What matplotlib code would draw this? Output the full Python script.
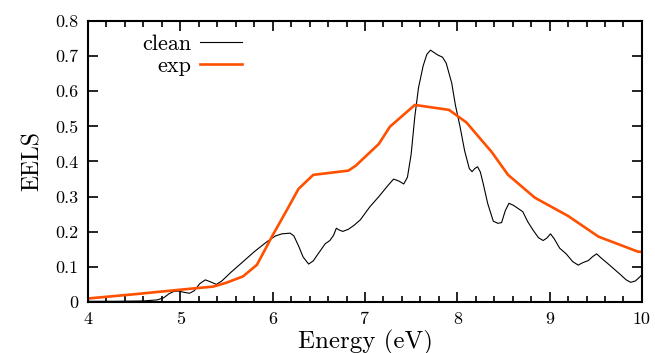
import matplotlib
matplotlib.use("Agg")
import matplotlib.pyplot as plt
from matplotlib.ticker import MultipleLocator, FixedLocator, FixedFormatter

plt.rcParams['font.family'] = 'serif'
plt.rcParams['font.serif'] = ['cmr10', 'DejaVu Serif']
plt.rcParams['mathtext.fontset'] = 'cm'
plt.rcParams['axes.formatter.use_mathtext'] = True

clean_x = [4.00, 4.30, 4.60, 4.75, 4.82, 4.88, 4.93, 4.98, 5.05, 5.10, 5.15, 5.21,
           5.27, 5.33, 5.39, 5.45, 5.55, 5.68, 5.80, 5.94, 6.03, 6.10, 6.19, 6.23,
           6.28, 6.33, 6.39, 6.44, 6.50, 6.57, 6.62, 6.66, 6.69, 6.72, 6.76, 6.82,
           6.88, 6.95, 7.05, 7.15, 7.25, 7.31, 7.37, 7.42, 7.46, 7.50, 7.54, 7.58,
           7.63, 7.67, 7.71, 7.75, 7.79, 7.84, 7.88, 7.94, 7.98, 8.03, 8.08, 8.13,
           8.16, 8.19, 8.22, 8.25, 8.28, 8.33, 8.39, 8.44, 8.48, 8.52, 8.56, 8.61,
           8.66, 8.71, 8.76, 8.82, 8.88, 8.93, 8.97, 9.01, 9.05, 9.11, 9.18, 9.25,
           9.31, 9.36, 9.42, 9.47, 9.51, 9.56, 9.65, 9.75, 9.83, 9.88, 9.93, 9.98, 10.0]
clean_y = [0.002, 0.002, 0.003, 0.006, 0.012, 0.024, 0.030, 0.031, 0.027, 0.025, 0.032, 0.052,
           0.063, 0.057, 0.050, 0.060, 0.085, 0.115, 0.143, 0.172, 0.188, 0.194, 0.196, 0.188,
           0.160, 0.128, 0.108, 0.117, 0.140, 0.166, 0.175, 0.190, 0.210, 0.205, 0.201, 0.207,
           0.218, 0.234, 0.270, 0.300, 0.332, 0.350, 0.344, 0.336, 0.355, 0.420, 0.528, 0.610,
           0.672, 0.705, 0.717, 0.710, 0.703, 0.697, 0.680, 0.623, 0.560, 0.499, 0.430, 0.380,
           0.371, 0.380, 0.385, 0.370, 0.338, 0.280, 0.230, 0.224, 0.226, 0.260, 0.281, 0.275,
           0.266, 0.257, 0.230, 0.205, 0.183, 0.175, 0.182, 0.194, 0.180, 0.153, 0.137, 0.115,
           0.105, 0.112, 0.118, 0.130, 0.137, 0.125, 0.105, 0.082, 0.063, 0.056, 0.060, 0.072, 0.078]

exp_x = [4.0, 4.5, 5.0, 5.36, 5.5, 5.68, 5.83, 6.0, 6.15, 6.28, 6.44, 6.82, 6.9, 7.15,
         7.27, 7.54, 7.91, 8.1, 8.21, 8.37, 8.55, 8.84, 9.2, 9.53, 9.96, 10.0]
exp_y = [0.010, 0.022, 0.035, 0.044, 0.055, 0.073, 0.106, 0.19, 0.26, 0.322, 0.362, 0.374,
         0.388, 0.45, 0.499, 0.561, 0.547, 0.511, 0.477, 0.428, 0.362, 0.297, 0.245, 0.186,
         0.143, 0.143]

y_ticks = [0, 0.1, 0.2, 0.3, 0.4, 0.5, 0.6, 0.7, 0.8]
y_labels = ['0', '0.1', '0.2', '0.3', '0.4', '0.5', '0.6', '0.7', '0.8']
x_ticks = [4, 5, 6, 7, 8, 9, 10]
x_labels = ['4', '5', '6', '7', '8', '9', '10']

fig = plt.figure(figsize=(6.55, 3.53), dpi=100)
ax = fig.add_axes([0.1344, 0.1445, 0.8456, 0.796])

ax.plot(clean_x, clean_y, color='black', lw=0.8, label='clean')
ax.plot(exp_x, exp_y, color='#ff5000', lw=1.9, label='exp')

ax.set_xlim(4, 10)
ax.set_ylim(0, 0.8)
ax.xaxis.set_major_locator(FixedLocator(x_ticks))
ax.xaxis.set_major_formatter(FixedFormatter(x_labels))
ax.xaxis.set_minor_locator(MultipleLocator(0.2))
ax.yaxis.set_major_locator(FixedLocator(y_ticks))
ax.yaxis.set_major_formatter(FixedFormatter(y_labels))

ax.tick_params(which='both', direction='in', top=True, right=True, width=1.2, labelsize=13)
ax.tick_params(which='major', length=7, pad=7)
ax.tick_params(which='minor', length=4)
for s in ax.spines.values():
    s.set_linewidth(1.5)

ax.set_xlabel('Energy (eV)', fontsize=18, labelpad=2)
ax.set_ylabel('EELS', fontsize=17, labelpad=8)

ax.legend(loc='center right', bbox_to_anchor=(0.278, 0.879), frameon=False, markerfirst=False,
          fontsize=16, handlelength=1.9, handletextpad=0.4, labelspacing=0.1,
          borderaxespad=0.0, borderpad=0.0)

fig.savefig('out.png', dpi=100)
